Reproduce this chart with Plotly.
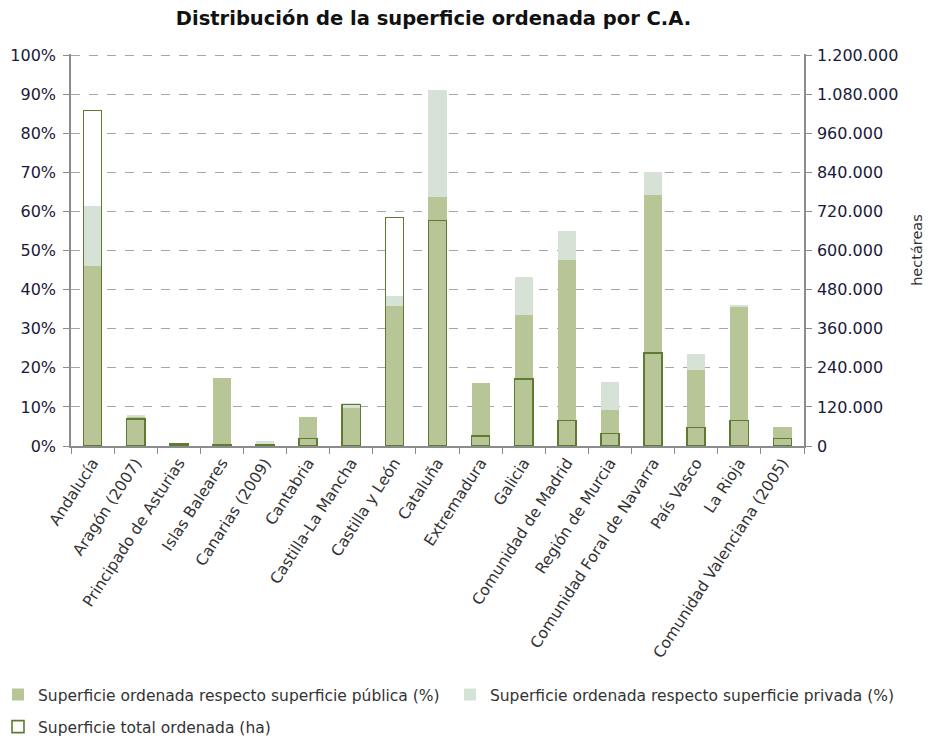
import plotly.graph_objects as go

regiones = ["Andalucía", "Aragón (2007)", "Principado de Asturias", "Islas Baleares",
            "Canarias (2009)", "Cantabria", "Castilla-La Mancha", "Castilla y León",
            "Cataluña", "Extremadura", "Galicia", "Comunidad de Madrid",
            "Región de Murcia", "Comunidad Foral de Navarra", "País Vasco", "La Rioja",
            "Comunidad Valenciana (2005)"]

# % de superficie ordenada sobre la superficie pública / privada
pct_publica = [46.0, 7.5, 0.2, 17.3, 0.7, 7.4, 9.6, 35.7, 63.6, 16.0, 33.6, 47.7,
               9.2, 64.3, 19.4, 35.5, 4.8]
pct_privada = [15.5, 0.4, 0.1, 0.0, 0.5, 0.0, 1.3, 2.6, 27.5, 0.0, 9.6, 7.2,
               7.2, 5.9, 4.2, 0.7, 0.0]
# superficie total ordenada (ha)
total_ha = [1030000, 83000, 6000, 5000, 4000, 23000, 128000, 702000, 692000, 30000,
            205000, 78000, 39000, 286000, 57000, 78000, 23000]

c_pub = "#B8C596"
c_priv = "#D6E2D6"
c_line = "#5E7B32"
txt = "#333333"
ax_col = "#8C8C8C"
w = 0.42
top_pct = 100.3

fig = go.Figure()
# fondo blanco de la barra de hectáreas (tapa la rejilla)
fig.add_trace(go.Bar(x=regiones, y=total_ha, yaxis="y", width=w, showlegend=False,
                     marker=dict(color="white", line=dict(width=0)), hoverinfo="skip"))
fig.add_trace(go.Bar(x=regiones, y=pct_publica, yaxis="y2", width=w, legend="legend",
                     name="Superficie ordenada respecto superficie pública (%)",
                     marker=dict(color=c_pub, line=dict(width=0))))
fig.add_trace(go.Bar(x=regiones, y=pct_privada, yaxis="y2", width=w, legend="legend2",
                     name="Superficie ordenada respecto superficie privada (%)",
                     marker=dict(color=c_priv, line=dict(width=0))))
fig.add_trace(go.Bar(x=regiones, y=total_ha, yaxis="y3", width=w, legend="legend3",
                     name="Superficie total ordenada (ha)",
                     marker=dict(color="rgba(0,0,0,0)", line=dict(color=c_line, width=1.6))))

ha_range = [0, 1200000 * top_pct / 100]
legend_font = dict(family="DejaVu Sans", size=15.5, color=txt)

fig.update_layout(
    width=929, height=730,
    margin=dict(l=63, r=133, t=46, b=292, autoexpand=False),
    paper_bgcolor="white", plot_bgcolor="white",
    barmode="stack",
    font=dict(family="DejaVu Sans", size=15, color=txt),
    title=dict(text="<b>Distribución de la superficie ordenada por C.A.</b>",
               x=0.458, xanchor="center", y=0.986, yanchor="middle",
               font=dict(family="DejaVu Sans", size=19.5, color="#111111")),
    xaxis=dict(type="category", tickangle=-57, tickson="boundaries", ticks="outside",
               ticklen=6, tickcolor=ax_col, showline=True, linecolor=ax_col,
               linewidth=1.5, showgrid=False, automargin=False,
               tickfont=dict(size=15.5, color=txt)),
    yaxis=dict(side="right", range=ha_range, tick0=0, dtick=120000,
               tickformat=",d", ticks="outside", ticklen=6, tickcolor=ax_col,
               showline=True, linecolor=ax_col, linewidth=1.5, ticklabelstandoff=2,
               showgrid=False, zeroline=False, automargin=False,
               title=dict(text="hectáreas", standoff=14, font=dict(size=14.5, color=txt)),
               tickfont=dict(size=16, color="#1a1a3a")),
    yaxis2=dict(overlaying="y", side="left", range=[0, top_pct], dtick=10, ticksuffix="%",
                ticks="outside", ticklen=6, tickcolor=ax_col, showline=True,
                linecolor=ax_col, linewidth=1.5, showgrid=True, gridcolor="#A6A6A6",
                griddash="dash", gridwidth=1, zeroline=False, automargin=False,
                ticklabelstandoff=4, tickfont=dict(size=16, color="#1a1a3a")),
    yaxis3=dict(overlaying="y", range=ha_range, visible=False),
    separators=",.",
    legend=dict(orientation="h", x=-0.0996, xanchor="left", y=-0.635, yanchor="middle",
                font=legend_font),
    legend2=dict(orientation="h", x=0.517, xanchor="left", y=-0.635, yanchor="middle",
                 font=legend_font),
    legend3=dict(orientation="h", x=-0.0996, xanchor="left", y=-0.717, yanchor="middle",
                 font=legend_font),
    bargap=0.58,
)

fig.write_html("out.html")
